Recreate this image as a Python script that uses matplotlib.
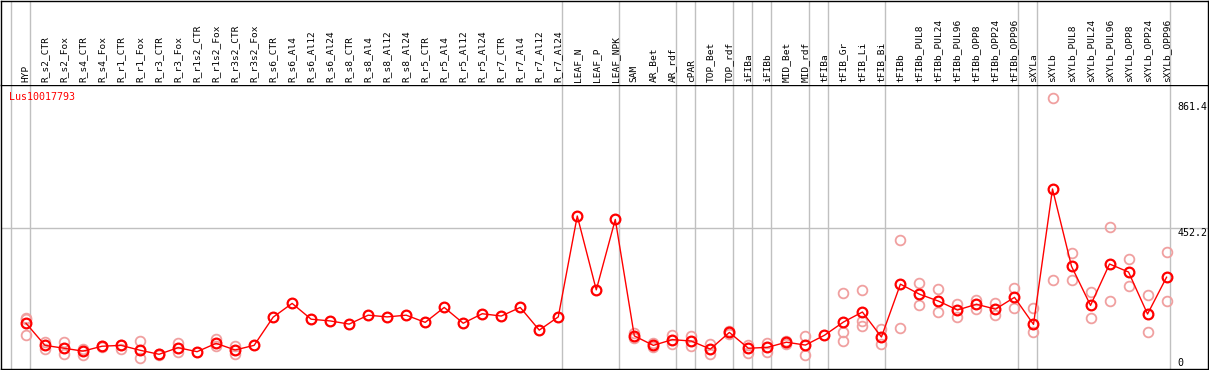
import matplotlib
matplotlib.use("Agg")
import matplotlib.pyplot as plt
import matplotlib.transforms as mtransforms

GENE = "Lus10017793"

SAMPLES = ["HYP",
           "R_s2_CTR", "R_s2_Fox", "R_s4_CTR", "R_s4_Fox", "R_r1_CTR", "R_r1_Fox",
           "R_r3_CTR", "R_r3_Fox", "R_r1s2_CTR", "R_r1s2_Fox", "R_r3s2_CTR", "R_r3s2_Fox",
           "R_s6_CTR", "R_s6_Al4", "R_s6_Al12", "R_s6_Al24", "R_s8_CTR", "R_s8_Al4",
           "R_s8_Al12", "R_s8_Al24", "R_r5_CTR", "R_r5_Al4", "R_r5_Al12", "R_r5_Al24",
           "R_r7_CTR", "R_r7_Al4", "R_r7_Al12", "R_r7_Al24",
           "LEAF_N", "LEAF_P", "LEAF_NPK",
           "SAM", "AR_Bet", "AR_rdf",
           "cPAR",
           "TOP_Bet", "TOP_rdf",
           "iFIBa",
           "iFIBb",
           "MID_Bet", "MID_rdf",
           "tFIBa",
           "tFIB_Gr", "tFIB_Li", "tFIB_Bi",
           "tFIBb", "tFIBb_PUL8", "tFIBb_PUL24", "tFIBb_PUL96", "tFIBb_OPP8",
           "tFIBb_OPP24", "tFIBb_OPP96",
           "sXYLa",
           "sXYLb", "sXYLb_PUL8", "sXYLb_PUL24", "sXYLb_PUL96", "sXYLb_OPP8",
           "sXYLb_OPP24", "sXYLb_OPP96"]

# number of samples in each block separated by a grey line
GROUP_SIZES = [1, 28, 3, 3, 1, 2, 1, 1, 2, 1, 3, 7, 1, 7]

MEANS = [122,
         45, 35, 25, 42, 45, 28, 14, 37, 23, 52, 29, 45,
         143, 191, 136, 130, 119, 150, 144, 150, 125, 177, 122, 155,
         147, 177, 98, 144,
         495, 238, 483,
         78, 45, 65,
         60,
         32, 90,
         35,
         38,
         56, 46,
         80,
         126, 161, 74,
         258, 223, 199, 168, 188, 171, 212,
         118,
         589, 320, 184, 328, 300, 154, 282]

REPLICATES = [[141, 136, 81],
              [57, 31], [57, 14], [33, 13], [44, 40], [47, 33], [60, 0],
              [16, 12], [54, 23], [], [66, 43], [43, 14], [],
              [], [], [], [], [], [], [], [], [], [], [], [],
              [], [], [], [],
              [], [], [],
              [87, 70], [52, 40], [82, 49],
              [79, 42],
              [50, 14], [95, 86],
              [47, 17],
              [54, 23],
              [61, 49], [78, 13],
              [],
              [227, 90, 59], [238, 130, 113], [102, 51],
              [410, 105], [262, 184], [240, 160], [190, 145], [204, 173],
              [192, 152], [243, 176],
              [174, 90],
              [904, 271], [366, 271], [230, 140], [457, 199], [344, 250],
              [219, 90], [369, 199]]

Y_MAX_LABEL = 861.4
Y_LABELS = [452.2, 0]
GRID_Y = 452.2

GREY = "#c0c0c0"
RED = "#ff0000"
PINK = "#f0a0a0"
FONT = "DejaVu Sans Mono"

W, H = 1209, 370
fig = plt.figure(figsize=(W / 100, H / 100), dpi=100)

left = 1 / W
width = 1207 / W
ax = fig.add_axes([left, 1 / H, width, 284 / H])
hdr = fig.add_axes([left, 285 / H, width, 84.5 / H], sharex=ax)

ax.set_xlim(-1.315, 62.18)
ax.set_ylim(-37.2, 950.6)
hdr.set_ylim(0, 1)

for a in (ax, hdr):
    a.set_xticks([])
    a.set_yticks([])
    for s in a.spines.values():
        s.set_linewidth(1.0)
        s.set_color("black")
hdr.spines["bottom"].set_visible(False)

# group separators
bounds = [-1]
for n in GROUP_SIZES:
    bounds.append(bounds[-1] + n)
for b in bounds:
    for a in (ax, hdr):
        a.axvline(b + 0.2, color=GREY, lw=1.0, zorder=0)

ax.axhline(GRID_Y, color=GREY, lw=1.0, zorder=0)

xs = list(range(len(SAMPLES)))

# replicate points
rx, ry = [], []
for i, reps in enumerate(REPLICATES):
    for v in reps:
        rx.append(i)
        ry.append(v)
ax.plot(rx, ry, ls="none", marker="o", ms=7, mfc="none", mec=PINK, mew=1.3, zorder=2)

# mean line
ax.plot(xs, MEANS, color=RED, lw=1.0, marker="o", ms=7, mfc="none", mec=RED,
        mew=1.6, zorder=3)

# column labels
trans = mtransforms.blended_transform_factory(hdr.transData, hdr.transAxes)
for i, name in enumerate(SAMPLES):
    hdr.text(i, 0.03, name, rotation=90, ha="center", va="bottom",
             fontsize=6.8, family=FONT, transform=trans)

ax.text(0.0069, 0.959, GENE, color=RED, fontsize=7.2, family=FONT,
        ha="left", va="center", transform=ax.transAxes)

# top value label sits near the top of the plot area
ax.text(0.975, 0.921, "%.1f" % Y_MAX_LABEL, fontsize=7.2, family=FONT,
        ha="left", va="center", transform=ax.transAxes)
ytrans = mtransforms.blended_transform_factory(ax.transAxes, ax.transData)
for v in Y_LABELS:
    lab = "0" if v == 0 else "%.1f" % v
    ax.text(0.975, v, lab, fontsize=7.2, family=FONT, ha="left", va="top",
            transform=ytrans)

fig.savefig("out.png", dpi=100)
